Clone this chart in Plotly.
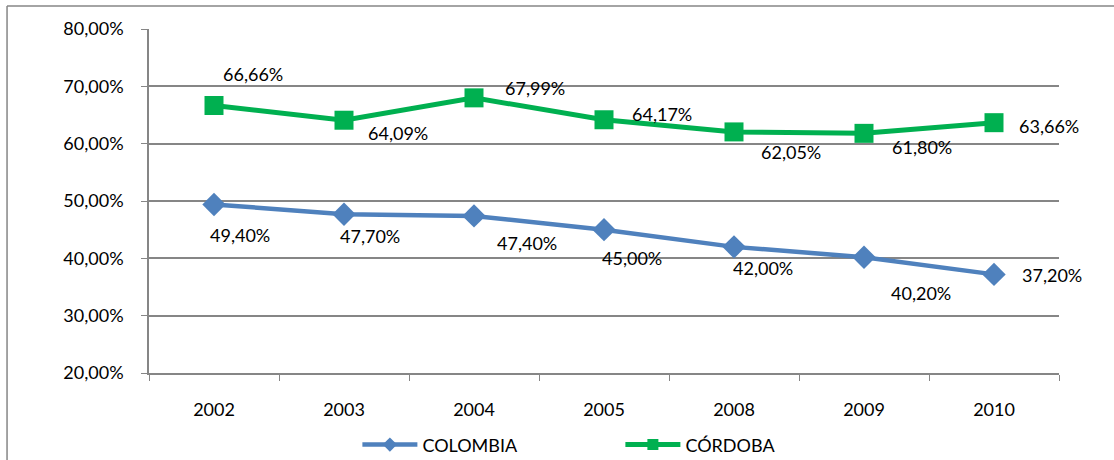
import plotly.graph_objects as go

years = ["2002", "2003", "2004", "2005", "2008", "2009", "2010"]
colombia = [49.40, 47.70, 47.40, 45.00, 42.00, 40.20, 37.20]
cordoba = [66.66, 64.09, 67.99, 64.17, 62.05, 61.80, 63.66]
y_ticks = [20, 30, 40, 50, 60, 70, 80]
y_tick_text = ["20,00%", "30,00%", "40,00%", "50,00%", "60,00%", "70,00%", "80,00%"]

# label offsets (px) relative to each point
col_off = [(26, -31), (26, -22), (53, -27), (28, -28), (29, -21), (57, -36), (58, -1)]
cor_off = [(39, 31), (54, -13), (61, 10), (58, 6), (57, -20), (58, -14), (55, -3)]

def fmt(v):
    return f"{v:.2f}".replace(".", ",") + "%"

FONT = "Lato"
FS = 18
BLUE = "#4F81BD"
GREEN = "#00B050"
fig = go.Figure()
fig.add_trace(go.Scatter(
    x=years, y=colombia, name="COLOMBIA", mode="lines+markers", showlegend=False,
    line=dict(color=BLUE, width=4.5),
    marker=dict(symbol="diamond", size=18, color=BLUE),
))
fig.add_trace(go.Scatter(
    x=years, y=cordoba, name="CÓRDOBA", mode="lines+markers", showlegend=False,
    line=dict(color=GREEN, width=5),
    marker=dict(symbol="square", size=19, color=GREEN),
))
# legend-only entries with smaller symbols
fig.add_trace(go.Scatter(
    x=[None], y=[None], name="COLOMBIA", mode="lines+markers",
    line=dict(color=BLUE, width=4.5),
    marker=dict(symbol="diamond", size=11, color=BLUE),
))
fig.add_trace(go.Scatter(
    x=[None], y=[None], name="CÓRDOBA", mode="lines+markers",
    line=dict(color=GREEN, width=5),
    marker=dict(symbol="square", size=11, color=GREEN),
))

for i, (v, (dx, dy)) in enumerate(zip(colombia, col_off)):
    fig.add_annotation(x=i, y=v, text=fmt(v), showarrow=False,
                       xshift=dx, yshift=dy, font=dict(family=FONT, size=FS, color="#000"))
for i, (v, (dx, dy)) in enumerate(zip(cordoba, cor_off)):
    fig.add_annotation(x=i, y=v, text=fmt(v), showarrow=False,
                       xshift=dx, yshift=dy, font=dict(family=FONT, size=FS, color="#000"))

# outer chart border (left and top)
fig.add_shape(type="line", xref="paper", yref="paper", x0=-0.156, x1=-0.156, y0=1.067, y1=-0.3,
              line=dict(color="#868686", width=1.5))
fig.add_shape(type="line", xref="paper", yref="paper", x0=-0.156, x1=1.07, y0=1.067, y1=1.067,
              line=dict(color="#868686", width=1.5))

fig.update_layout(
    width=1114, height=460,
    margin=dict(l=149, r=55, t=29, b=87, autoexpand=False),
    paper_bgcolor="white", plot_bgcolor="white",
    font=dict(family=FONT, size=FS, color="#000"),
    showlegend=True,
    legend=dict(orientation="h", x=0.229, xanchor="left", y=-0.209, yanchor="middle",
                font=dict(family=FONT, size=FS), entrywidth=193, itemwidth=55,
                bgcolor="rgba(0,0,0,0)"),
    xaxis=dict(type="category", range=[-0.5, 6.5], showgrid=False,
               showline=True, linecolor="#868686", linewidth=1.5,
               ticks="outside", tickson="boundaries", ticklen=6, tickcolor="#868686",
               ticklabelstandoff=20,
               tickfont=dict(family=FONT, size=FS), fixedrange=True),
    yaxis=dict(range=[20, 80], tickvals=y_ticks, ticktext=y_tick_text,
               showgrid=True, gridcolor="#868686", gridwidth=1.5,
               showline=True, linecolor="#868686", linewidth=1.5,
               ticks="outside", ticklen=6, tickcolor="#868686", zeroline=False,
               ticklabelstandoff=14, fixedrange=True,
               tickfont=dict(family=FONT, size=FS)),
)
fig.write_html("out.html", config={"displayModeBar": False},
               post_script="document.body.style.margin='0';document.body.style.overflow='hidden';")
